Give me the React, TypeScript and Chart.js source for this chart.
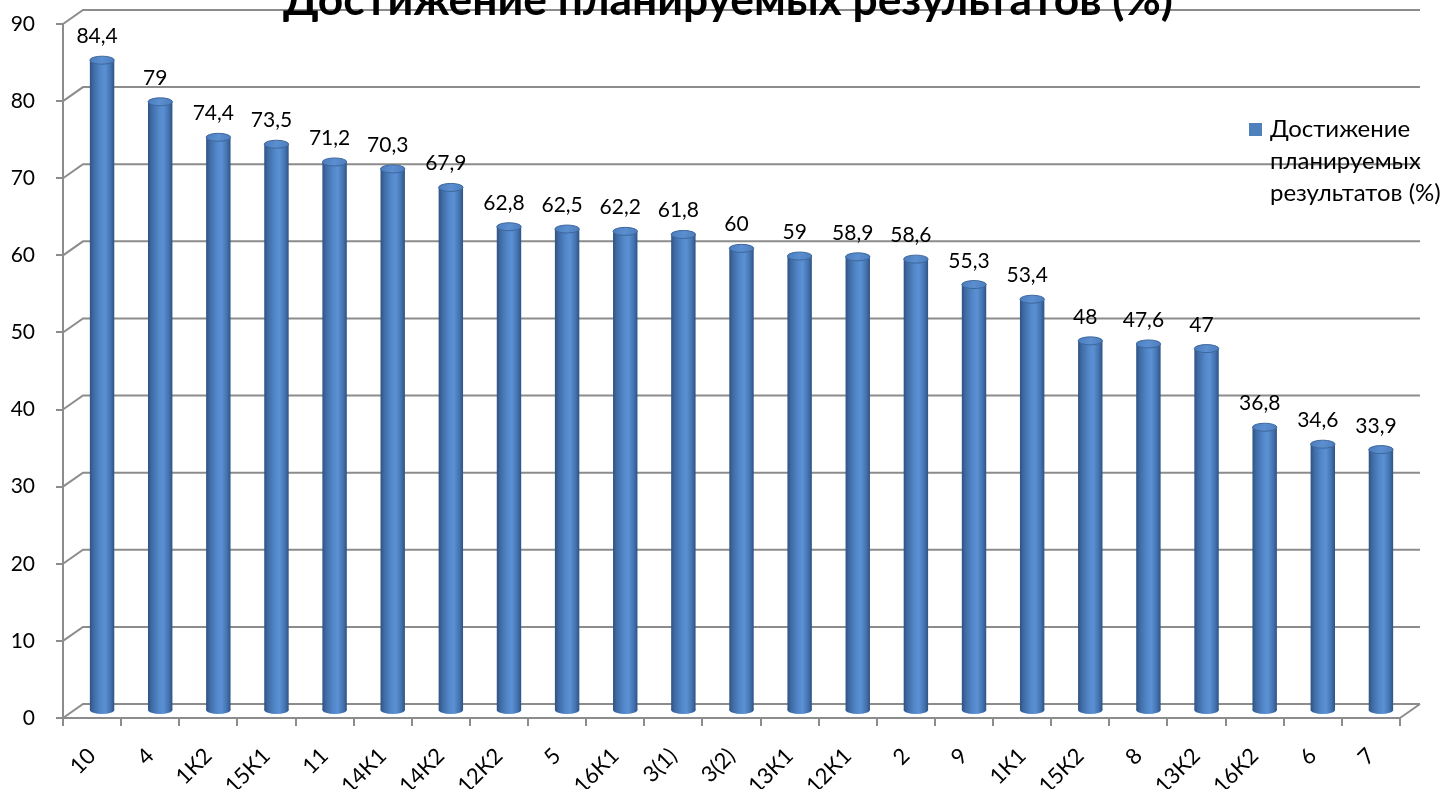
import React, { useEffect, useRef } from "react";
import { Chart, registerables } from "chart.js";

Chart.register(...registerables);

const TITLE = "Достижение планируемых результатов (%)";
const SERIES_NAME = "Достижение планируемых результатов (%)";
const LEGEND_LINES = ["Достижение", "планируемых", "результатов (%)"];

const categories = [
  "10", "4", "1К2", "15К1", "11", "14К1", "14К2", "12К2", "5", "16К1", "3(1)", "3(2)",
  "13К1", "12К1", "2", "9", "1К1", "15К2", "8", "13К2", "16К2", "6", "7",
];

const values = [
  84.4, 79, 74.4, 73.5, 71.2, 70.3, 67.9, 62.8, 62.5, 62.2, 61.8, 60,
  59, 58.9, 58.6, 55.3, 53.4, 48, 47.6, 47, 36.8, 34.6, 33.9,
];

const Y_MIN = 0;
const Y_MAX = 90;
const Y_STEP = 10;

const DX = 20;
const DY = 14;
const BAR_PCT = 0.42;
const GRID = "#8c8c8c";
const FONT = "Lato, 'Open Sans', sans-serif";
const BLUE = "#4F81BD";

const fmt = (v: number) => String(v).replace(".", ",");

function bodyGradient(ctx: CanvasRenderingContext2D, x: number, rx: number) {
  const g = ctx.createLinearGradient(x - rx, 0, x + rx, 0);
  g.addColorStop(0, "#2f5283");
  g.addColorStop(0.15, "#3f6ba4");
  g.addColorStop(0.45, "#5389cb");
  g.addColorStop(0.62, "#5b91d4");
  g.addColorStop(0.85, "#4373b0");
  g.addColorStop(1, "#2f5283");
  return g;
}

const cylinderPlugin = {
  id: "cylinder3d",
  beforeDatasetsDraw(chart: any) {
    const { ctx, chartArea: a, scales } = chart;
    const ys = scales.y;
    ctx.save();
    ctx.strokeStyle = GRID;
    ctx.lineWidth = 2;
    ys.ticks.forEach((t: any) => {
      const py = ys.getPixelForValue(t.value);
      ctx.beginPath();
      ctx.moveTo(a.left, py);
      ctx.lineTo(a.left + DX, py - DY);
      ctx.lineTo(a.right + DX, py - DY);
      ctx.stroke();
    });
    ctx.beginPath();
    ctx.moveTo(a.right, a.bottom);
    ctx.lineTo(a.right + DX, a.bottom - DY);
    ctx.stroke();
    ctx.restore();
    ctx.save();
    ctx.translate(DX / 2, -DY / 2);
  },
  afterDatasetsDraw(chart: any) {
    const { ctx } = chart;
    const meta = chart.getDatasetMeta(0);
    const base = chart.scales.y.getPixelForValue(0);
    meta.data.forEach((el: any) => {
      const { x, y, width } = el.getProps(["x", "y", "width"], true);
      const rx = width / 2;
      const ry = 4;
      ctx.fillStyle = bodyGradient(ctx, x, rx);
      ctx.beginPath();
      ctx.ellipse(x, base - 1, rx, ry, 0, 0, Math.PI * 2);
      ctx.fill();
      const tg = ctx.createLinearGradient(x - rx, y - ry, x + rx, y + ry);
      tg.addColorStop(0, "#4a7cbc");
      tg.addColorStop(0.5, "#5c8fd0");
      tg.addColorStop(1, "#4a7cbc");
      ctx.fillStyle = tg;
      ctx.beginPath();
      ctx.ellipse(x, y, rx, ry, 0, 0, Math.PI * 2);
      ctx.fill();
      ctx.strokeStyle = "#3d679c";
      ctx.lineWidth = 1;
      ctx.stroke();
    });
    ctx.restore();

    ctx.save();
    ctx.fillStyle = "#000";
    ctx.font = `21px ${FONT}`;
    ctx.textAlign = "center";
    ctx.textBaseline = "alphabetic";
    meta.data.forEach((el: any, i: number) => {
      const { x, y } = el.getProps(["x", "y"], true);
      ctx.fillText(fmt(values[i]), x + DX / 2 - 5, y - DY / 2 - 17);
    });
    ctx.restore();
  },
  afterDraw(chart: any) {
    const { ctx } = chart;
    ctx.save();
    ctx.fillStyle = "#000";
    ctx.font = `bold 40px ${FONT}`;
    const w = ctx.measureText(TITLE).width;
    const size = (40 * 890) / w;
    ctx.font = `bold ${size}px ${FONT}`;
    ctx.textAlign = "center";
    ctx.textBaseline = "alphabetic";
    ctx.fillText(TITLE, 728, 15);

    ctx.fillStyle = BLUE;
    ctx.fillRect(1249, 123, 13, 13);
    ctx.fillStyle = "#000";
    ctx.font = `24px ${FONT}`;
    ctx.textAlign = "left";
    LEGEND_LINES.forEach((line, i) => {
      ctx.fillText(line, 1270, 137 + i * 32);
    });
    ctx.restore();
  },
};

export default function App() {
  const canvasRef = useRef<HTMLCanvasElement | null>(null);

  useEffect(() => {
    document.body.style.margin = "0";
    let chart: Chart | null = null;
    let cancelled = false;
    const fontsReady = (document as any).fonts
      ? Promise.all([
          (document as any).fonts.load(`20px Lato`),
          (document as any).fonts.load(`bold 20px Lato`),
        ]).catch(() => null)
      : Promise.resolve(null);

    fontsReady.then(() => {
      if (cancelled || !canvasRef.current) return;
      chart = new Chart(canvasRef.current, {
        type: "bar",
        data: {
          labels: categories,
          datasets: [
            {
              label: SERIES_NAME,
              data: values,
              barPercentage: BAR_PCT,
              categoryPercentage: 1,
              borderWidth: 0,
              clip: false as any,
              backgroundColor: (c: any) => {
                const ch = c.chart;
                const xs = ch.scales?.x;
                if (!ch.chartArea || !xs || c.type !== "data") return BLUE;
                const x = xs.getPixelForValue(c.dataIndex);
                const rx = ((xs.width / categories.length) * BAR_PCT) / 2;
                return bodyGradient(ch.ctx, x, rx);
              },
            },
          ],
        },
        options: {
          responsive: false,
          animation: false,
          devicePixelRatio: 1,
          events: [],
          layout: { padding: { top: 24, right: 51, left: 0, bottom: 0 } },
          plugins: {
            legend: { display: false },
            title: { display: false },
            tooltip: { enabled: false },
          },
          scales: {
            y: {
              min: Y_MIN,
              max: Y_MAX,
              ticks: {
                stepSize: Y_STEP,
                color: "#000",
                font: { family: FONT, size: 21 },
                padding: 21,
              },
              grid: {
                drawOnChartArea: false,
                drawTicks: true,
                tickLength: 7,
                color: GRID,
                lineWidth: 2,
              },
              border: { display: true, color: GRID, width: 2 },
              afterFit: (s: any) => {
                s.width = 63;
                s.paddingTop = 0;
                s.paddingBottom = 0;
              },
            },
            x: {
              ticks: {
                color: "#000",
                font: { family: FONT, size: 22 },
                minRotation: 45,
                maxRotation: 45,
                padding: 17,
                autoSkip: false,
              },
              grid: {
                drawOnChartArea: false,
                drawTicks: true,
                tickLength: 8,
                color: GRID,
                lineWidth: 2,
                offset: true,
              },
              border: { display: true, color: GRID, width: 2 },
              afterFit: (s: any) => {
                s.height = 71;
                s.paddingLeft = 0;
                s.paddingRight = 0;
              },
            },
          },
        },
        plugins: [cylinderPlugin],
      });
    });

    return () => {
      cancelled = true;
      if (chart) chart.destroy();
    };
  }, []);

  return (
    <div style={{ width: 1451, height: 789, background: "#fff" }}>
      <canvas ref={canvasRef} width={1451} height={789} style={{ display: "block" }} />
    </div>
  );
}
